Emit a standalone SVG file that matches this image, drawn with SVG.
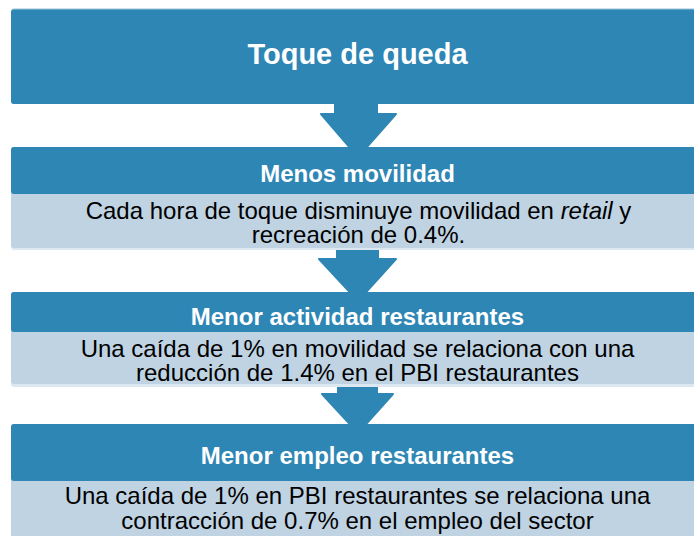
<svg xmlns="http://www.w3.org/2000/svg" width="694" height="536" viewBox="0 0 694 536">
  <style>
    .hdr { fill: #2E86B4; }
    .body { fill: #BFD3E3; }
    .edge { fill: #DCE7F0; }
    .arrow { fill: #2E86B4; stroke: #2E86B4; stroke-width: 2; stroke-linejoin: round; }
    .title { font-family: "Liberation Sans", Arial, sans-serif; font-weight: bold; font-size: 29px; fill: #FFFFFF; text-anchor: middle; }
    .head { font-family: "Liberation Sans", Arial, sans-serif; font-weight: bold; font-size: 24px; fill: #FFFFFF; text-anchor: middle; }
    .txt { font-family: "Liberation Sans", Arial, sans-serif; font-size: 24px; fill: #000000; text-anchor: middle; }
  </style>
  <rect width="694" height="536" fill="#FFFFFF"/>
  <g id="connectors">
    <path class="arrow" d="M335,100 L377,100 L377,114 L396,114 L358,157 L321,114 L335,114 Z"/>
    <path class="arrow" d="M337,244 L378,244 L378,259 L396,259 L358,301 L319,259 L337,259 Z"/>
    <path class="arrow" d="M338,380 L377,380 L377,394 L393,394 L358,433 L322,394 L338,394 Z"/>
  </g>
  <g id="node-toque">
    <rect x="11" y="8.5" width="700" height="95.5" rx="3" fill="#9CC3DA"/>
    <rect class="hdr" x="11" y="9.5" width="700" height="94.5" rx="3"/>
    <text class="title" x="357.5" y="64">Toque de queda</text>
  </g>
  <g id="node-movilidad">
    <rect class="edge" x="11" y="147" width="700" height="103" rx="3"/>
    <rect class="body" x="11" y="147" width="700" height="101" rx="3"/>
    <rect class="hdr" x="11" y="147" width="700" height="47" rx="3"/>
    <text class="head" x="357.5" y="182">Menos movilidad</text>
    <text class="txt" x="358.5" y="219">Cada hora de toque disminuye movilidad en <tspan font-style="italic">retail</tspan> y</text>
    <text class="txt" x="358.5" y="243">recreación de 0.4%.</text>
  </g>
  <g id="node-actividad">
    <rect class="edge" x="11" y="292" width="700" height="95" rx="3"/>
    <rect class="body" x="11" y="292" width="700" height="92" rx="3"/>
    <rect class="hdr" x="11" y="292" width="700" height="40" rx="3"/>
    <text class="head" x="357.5" y="325">Menor actividad restaurantes</text>
    <text class="txt" x="357.5" y="357">Una caída de 1% en movilidad se relaciona con una</text>
    <text class="txt" x="357.5" y="381">reducción de 1.4% en el PBI restaurantes</text>
  </g>
  <g id="node-empleo">
    <rect class="body" x="11" y="424" width="700" height="130" rx="3"/>
    <rect class="hdr" x="11" y="424" width="700" height="57" rx="3"/>
    <text class="head" x="357.5" y="464">Menor empleo restaurantes</text>
    <text class="txt" x="357.5" y="504">Una caída de 1% en PBI restaurantes se relaciona una</text>
    <text class="txt" x="357.5" y="529">contracción de 0.7% en el empleo del sector</text>
  </g>
</svg>
